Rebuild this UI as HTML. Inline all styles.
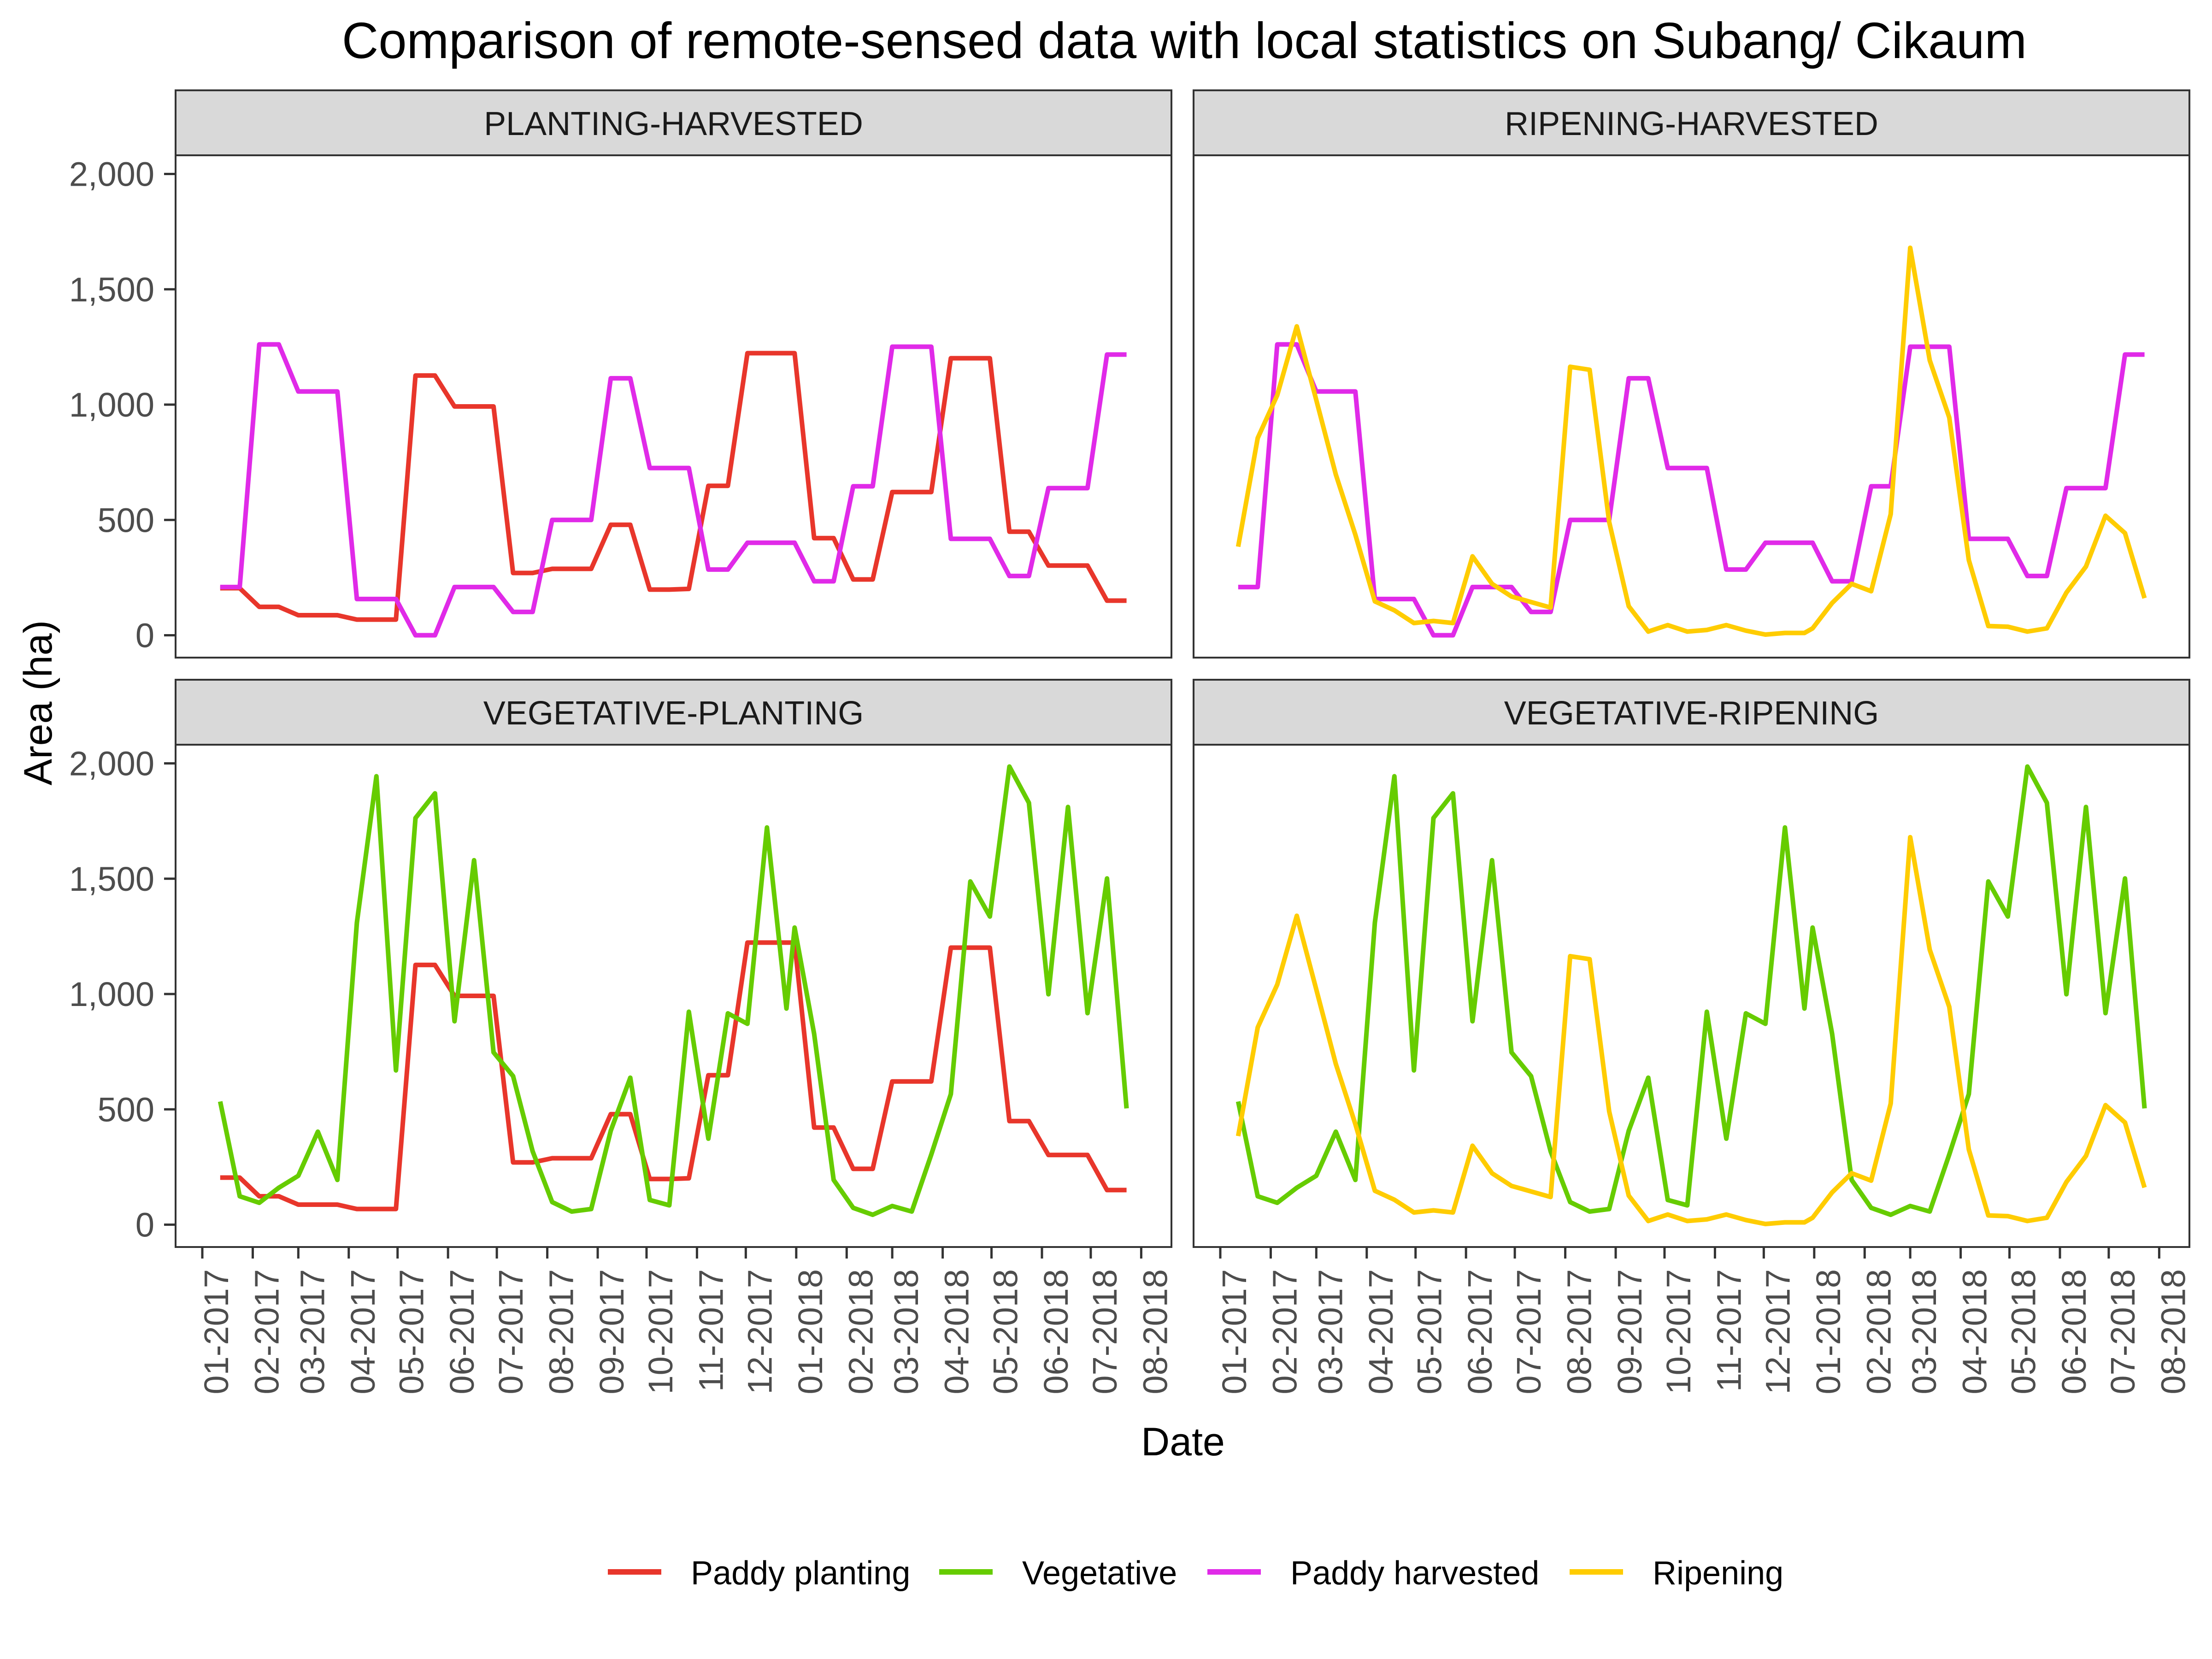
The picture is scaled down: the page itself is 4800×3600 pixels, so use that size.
<!DOCTYPE html>
<html><head><meta charset="utf-8">
<style>
html,body{margin:0;padding:0;background:#fff;}
svg{display:block;font-family:"Liberation Sans",Arial,sans-serif;}
</style></head>
<body>
<svg id="chart" width="4800" height="3600" viewBox="0 0 4800 3600" xmlns="http://www.w3.org/2000/svg">
<rect x="0" y="0" width="4800" height="3600" fill="#fff"/>
<text x="2570" y="126" font-size="110" text-anchor="middle" fill="#000">Comparison of remote-sensed data with local statistics on Subang/ Cikaum</text>
<text transform="translate(112,1525) rotate(-90)" font-size="86" text-anchor="middle" fill="#000">Area (ha)</text>
<text x="2567" y="3158" font-size="86" text-anchor="middle" fill="#000">Date</text>
<g id="panels"></g>
<g id="legend"></g>
</svg>
<script>
// observation dates (days since 2017-01-01)
const days = [11,23,35,47,59,71,83,95,107,119,131,143,155,167,179,191,203,215,227,239,251,263,275,287,299,311,323,335,347,359,364,376,388,400,412,424,436,448,460,472,484,496,508,520,532,544,556,568];
const paddyPlanting = [204,204,123,123,87,87,87,68,68,68,1126,1126,992,992,992,270,270,288,288,288,479,479,198,198,201,648,648,1223,1223,1223,1223,421,421,242,242,621,621,621,1201,1201,1201,449,449,302,302,302,150,150];
const vegetative = [534,123,95,160,212,403,194,1309,1944,669,1763,1870,882,1580,747,644,318,98,57,68,407,637,107,84,923,373,916,871,1722,937,1288,827,194,73,43,81,57,304,566,1488,1336,1986,1829,999,1811,917,1501,504];
const paddyHarvested = [209,209,1261,1261,1057,1057,1057,157,157,157,0,0,209,209,209,101,101,500,500,500,1114,1114,725,725,725,285,285,401,401,401,401,234,234,646,646,1251,1251,1251,418,418,418,257,257,638,638,638,1217,1217];
const ripening = [384,855,1041,1339,1020,697,436,147,108,53,62,53,342,223,168,144,120,1164,1151,491,126,16,44,16,23,44,20,3,10,10,30,140,223,191,525,1680,1192,944,326,40,37,16,30,185,298,518,443,161];
const yTicks = [0,500,1000,1500,2000];
const yTickLabels = ["0","500","1,000","1,500","2,000"];
const monthDays = [0,31,59,90,120,151,181,212,243,273,304,334,365,396,424,455,485,516,546,577];
const monthLabels = ["01-2017","02-2017","03-2017","04-2017","05-2017","06-2017","07-2017","08-2017","09-2017","10-2017","11-2017","12-2017","01-2018","02-2018","03-2018","04-2018","05-2018","06-2018","07-2018","08-2018"];

const colors = {pp:"#E8362B", veg:"#66CC00", ph:"#E02AE8", rip:"#FFCC00"};
const seriesMap = {pp:paddyPlanting, veg:vegetative, ph:paddyHarvested, rip:ripening};
const NS = "http://www.w3.org/2000/svg";
const root = document.getElementById('panels');

const panels = [
  {name:"PLANTING-HARVESTED", left:381, top:196, s:["pp","ph"], yLabels:true, xLabels:false},
  {name:"RIPENING-HARVESTED", left:2590, top:196, s:["ph","rip"], yLabels:false, xLabels:false},
  {name:"VEGETATIVE-PLANTING", left:381, top:1475, s:["pp","veg"], yLabels:true, xLabels:true},
  {name:"VEGETATIVE-RIPENING", left:2590, top:1475, s:["veg","rip"], yLabels:false, xLabels:true}
];
const W = 2161, stripH = 141, plotH = 1090;

function mk(tag, attrs, parent){
  const e = document.createElementNS(NS, tag);
  for (const k in attrs) e.setAttribute(k, attrs[k]);
  parent.appendChild(e);
  return e;
}

panels.forEach(p => {
  const slug = p.name.toLowerCase();
  const g = mk('g', {}, root);
  
  
  const plotTop = p.top + stripH;
  const plotBottom = plotTop + plotH;
  const y0 = plotBottom - 48.5, pxPerUnit = 1001/2000;
  const yScale = v => y0 - v * pxPerUnit;
  const xScale = d => p.left + 58 + d * 3.531;

  const strip = mk('rect', {x:p.left, y:p.top, width:W, height:stripH, fill:"#D9D9D9", stroke:"#333", "stroke-width":4}, g);
  
  
  const st = mk('text', {x:p.left + W/2, y:p.top + 97, "font-size":72, "text-anchor":"middle", fill:"#1A1A1A"}, g);
  st.textContent = p.name;
  
  

  const bg = mk('rect', {x:p.left, y:plotTop, width:W, height:plotH, fill:"#fff"}, g);
  
  

  p.s.forEach(key => {
    const vals = seriesMap[key];
    const pts = vals.map((v,i) => xScale(days[i]).toFixed(1) + ',' + yScale(v).toFixed(1)).join(' ');
    const line = mk('polyline', {points:pts, fill:"none", stroke:colors[key], "stroke-width":10, "stroke-linejoin":"round"}, g);
    
    
  });

  const border = mk('rect', {x:p.left, y:plotTop, width:W, height:plotH, fill:"none", stroke:"#333", "stroke-width":4}, g);
  
  

  if (p.yLabels) {
    yTicks.forEach((v,i) => {
      const yy = yScale(v);
      const t = mk('line', {x1:p.left-25, x2:p.left, y1:yy, y2:yy, stroke:"#333", "stroke-width":5}, g);
      
      
      const l = mk('text', {x:p.left-46, y:yy+26, "font-size":74, "text-anchor":"end", fill:"#4D4D4D"}, g);
      l.textContent = yTickLabels[i];
      
      
    });
  }
  if (p.xLabels) {
    monthDays.forEach((d,i) => {
      const xx = xScale(d);
      const t = mk('line', {x1:xx, x2:xx, y1:plotBottom, y2:plotBottom+25, stroke:"#333", "stroke-width":5}, g);
      
      
      const l = mk('text', {transform:"translate(" + (xx+56) + "," + (plotBottom+48) + ") rotate(-90)", "font-size":74, "text-anchor":"end", fill:"#4D4D4D"}, g);
      l.textContent = monthLabels[i];
      
      
    });
  }
});

// legend
const legendItems = [["pp","Paddy planting",1319],["veg","Vegetative",2038],["ph","Paddy harvested",2620],["rip","Ripening",3406]];
const lg = document.getElementById('legend');
legendItems.forEach(it => {
  const g = mk('g', {}, lg);
  
  
  const k = mk('line', {x1:it[2], x2:it[2]+116, y1:3411, y2:3411, stroke:colors[it[0]], "stroke-width":12}, g);
  
  
  const t = mk('text', {x:it[2]+180, y:3438, "font-size":72, fill:"#000"}, g);
  t.textContent = it[1];
  
  
});
</script>
</body></html>
